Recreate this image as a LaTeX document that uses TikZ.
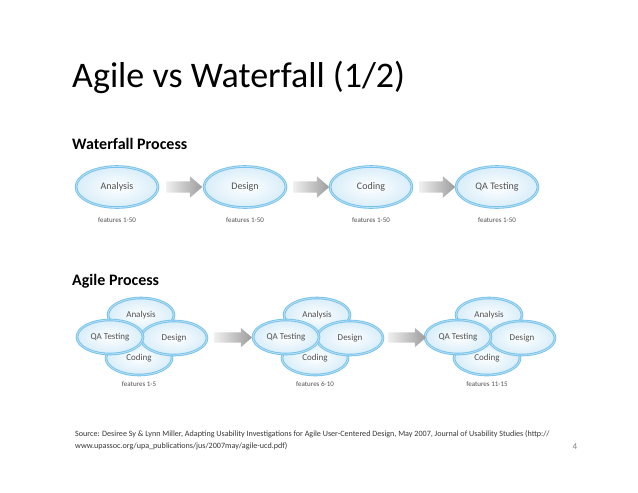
\documentclass[tikz,border=0pt]{standalone}
\usepackage{fontspec}
\setmainfont{Carlito}
\usetikzlibrary{shapes.geometric,shapes.arrows,calc}
\definecolor{ringblue}{RGB}{118,194,234}
\definecolor{ringlight}{RGB}{186,224,245}
\definecolor{fillblue}{RGB}{216,237,249}
\definecolor{labelgray}{RGB}{80,80,80}
\definecolor{srcgray}{RGB}{55,55,55}
\begin{document}
\begin{tikzpicture}[x=1pt,y=-1pt,
  phase/.style={ellipse, draw=ringblue, line width=2.6pt, inner color=white, outer color=fillblue,
    minimum width=82pt, minimum height=41pt, inner sep=0pt, text=labelgray,
    font=\fontsize{10}{12}\selectfont,
    postaction={draw=ringlight, line width=0.8pt}},
  aphase/.style={phase, minimum width=66pt, minimum height=34pt, font=\fontsize{9}{11}\selectfont},
  feat/.style={font=\fontsize{7}{8}\selectfont, text=labelgray},
  blockarrow/.style={single arrow, draw=none, left color=gray!12, right color=gray!78,
    inner xsep=0pt, inner ysep=5.5pt, single arrow head extend=5pt, single arrow tip angle=82,
    minimum height=36pt},
  ablockarrow/.style={blockarrow, inner ysep=5pt, single arrow head extend=4.5pt, minimum height=38pt},
  heading/.style={font=\bfseries\fontsize{16}{18}\selectfont, anchor=base west, inner sep=0pt},
]
\useasboundingbox (0,0) rectangle (638,493);
\fill[white] (0,0) rectangle (638,493);

\node[anchor=base west, inner sep=0pt, font=\fontsize{36}{40}\selectfont] (title) at (72,87) {Agile vs Waterfall (1/2)};

\node[heading] (wfh) at (72,149) {Waterfall Process};
\node[heading] (agh) at (72,285) {Agile Process};

% Waterfall
\node[phase] (wa) at (117,187) {Analysis};
\node[phase] (wd) at (245,187) {Design};
\node[phase] (wc) at (371,187) {Coding};
\node[phase] (wq) at (497,187) {QA Testing};
\node[feat] (fa) at (117,220) {features 1-50};
\node[feat] (fd) at (245,220) {features 1-50};
\node[feat] (fc) at (371,220) {features 1-50};
\node[feat] (fq) at (497,220) {features 1-50};
\node[blockarrow] (w1) at ($(wa)!0.5!(wd)$) {};
\node[blockarrow] (w2) at ($(wd)!0.5!(wc)$) {};
\node[blockarrow] (w3) at ($(wc)!0.5!(wq)$) {};

% Agile clusters
\foreach \cx/\n/\f in {139/1/features 1-5, 315/2/features 6-10, 487/3/features 11-15}{
  \node[aphase] (a\n) at ({\cx+2},315) {Analysis};
  \node[aphase] (c\n) at (\cx,358) {Coding};
  \node[aphase] (d\n) at ({\cx+35},338) {Design};
  \node[aphase] (q\n) at ({\cx-29},337) {QA Testing};
  \node[feat] (f\n) at (\cx,384) {\f};
}
\node[ablockarrow] (g1) at ($(d1.east)!0.5!(q2.west)$) {};
\node[ablockarrow] (g2) at ($(d2.east)!0.5!(q3.west)$) {};

% Source
\node[anchor=north west, align=left, text=srcgray, font=\fontsize{8.1}{12}\selectfont, inner sep=0pt] (src) at (75,430)
  {Source: Desiree Sy \& Lynn Miller, Adapting Usability Investigations for Agile User-Centered Design, May 2007, Journal of Usability Studies (http://\\
   www.upassoc.org/upa\_publications/jus/2007may/agile-ucd.pdf)};
\node[text=gray, font=\fontsize{9}{10}\selectfont] (pg) at (575,447) {4};
\end{tikzpicture}
\end{document}
